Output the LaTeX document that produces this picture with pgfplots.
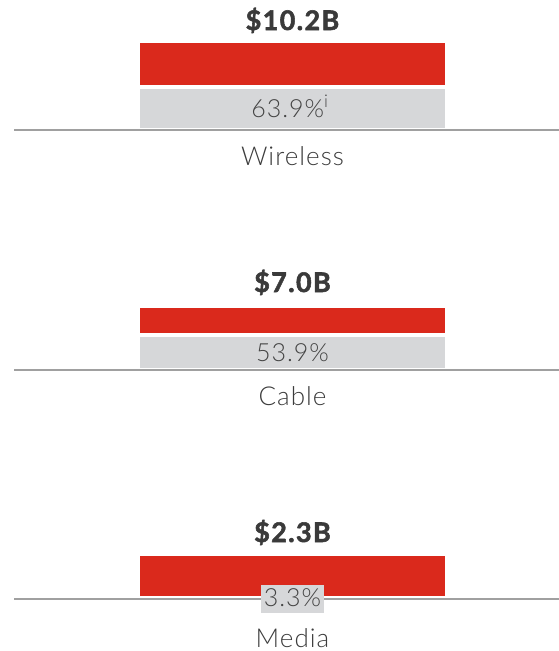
\documentclass[border=0pt]{standalone}
\usepackage{pgfplots}
\pgfplotsset{compat=1.18}
\usepackage{fontspec}
\setmainfont{Lato}
\IfFontExistsTF{Lato Light}{\newfontfamily\lightfam{Lato Light}[LetterSpace=4]}{\newfontfamily\lightfam{Lato}[LetterSpace=4]}
\newfontfamily\ttlfam{Lato}[LetterSpace=5, BoldFeatures={FakeBold=2}]
\definecolor{barred}{HTML}{DA291C}
\definecolor{bargray}{HTML}{D6D7D9}
\definecolor{basegray}{HTML}{A0A0A0}
\definecolor{txt}{HTML}{3C3C3C}
\definecolor{pct}{HTML}{444444}
\definecolor{ttl}{HTML}{3A3A3A}
\pgfplotsset{panel/.style={width=545pt, height=100pt, scale only axis,
  xmin=0, xmax=545, ymin=0, ymax=100, axis lines=none, clip=false,
  ybar stacked, bar width=305pt, anchor=south west}}
\newcommand{\ttlfont}{\fontsize{27}{28}\selectfont\ttlfam\bfseries\color{ttl}}
\newcommand{\catfont}{\fontsize{26}{30}\selectfont\lightfam\color{txt}}
\newcommand{\pctfont}{\fontsize{25}{28}\selectfont\lightfam\color{pct}}
\begin{document}
\begin{tikzpicture}
\useasboundingbox (0,0) rectangle (559pt,-651pt);
% Wireless
\begin{axis}[panel, at={(14pt,-128pt)}]
\addplot[fill=bargray, draw=none] coordinates {(278.5,39)};
\addplot[fill=none, draw=none] coordinates {(278.5,4)};
\addplot[fill=barred, draw=none] coordinates {(278.5,42)};
\coordinate (wl0) at (axis cs:0,-2.3);
\coordinate (wl1) at (axis cs:545,-2.3);
\coordinate (wt) at (axis cs:278.5,98);
\coordinate (wp) at (axis cs:276,11);
\coordinate (wc) at (axis cs:278.5,-37.7);
\end{axis}
% Cable
\begin{axis}[panel, at={(14pt,-368pt)}]
\addplot[fill=bargray, draw=none] coordinates {(278.5,31)};
\addplot[fill=none, draw=none] coordinates {(278.5,4.5)};
\addplot[fill=barred, draw=none] coordinates {(278.5,25)};
\coordinate (cl0) at (axis cs:0,-2.2);
\coordinate (cl1) at (axis cs:545,-2.2);
\coordinate (ct) at (axis cs:278.5,76);
\coordinate (cp) at (axis cs:278.5,7);
\coordinate (cc) at (axis cs:278.5,-37.7);
\end{axis}
% Media
\begin{axis}[panel, at={(14pt,-596pt)}]
\addplot[fill=bargray, draw=none] coordinates {(278.5,0)};
\addplot[fill=none, draw=none] coordinates {(278.5,0)};
\addplot[fill=barred, draw=none] coordinates {(278.5,40)};
\coordinate (ml0) at (axis cs:0,-3.3);
\coordinate (ml1) at (axis cs:545,-3.3);
\coordinate (mt) at (axis cs:278.5,54);
\coordinate (mp) at (axis cs:278.5,-10.7);
\coordinate (mc) at (axis cs:278.5,-51);
\end{axis}
\draw[basegray, line width=2pt] (wl0) -- (wl1);
\draw[basegray, line width=2pt] (cl0) -- (cl1);
\draw[basegray, line width=2pt] (ml0) -- (ml1);
\node[anchor=base, inner sep=0pt] at (wt) {\ttlfont \$10.2B};
\node[anchor=base, inner sep=0pt] at (wp) {\pctfont 63.9\%\textsuperscript{i}};
\node[anchor=base, inner sep=0pt] at (wc) {\catfont Wireless};
\node[anchor=base, inner sep=0pt] at (ct) {\ttlfont \$7.0B};
\node[anchor=base, inner sep=0pt] at (cp) {\pctfont 53.9\%};
\node[anchor=base, inner sep=0pt] at (cc) {\catfont Cable};
\node[anchor=base, inner sep=0pt] at (mt) {\ttlfont \$2.3B};
\node[anchor=base, fill=bargray, inner xsep=3pt, inner ysep=0pt, text height=22pt, text depth=6pt] at (mp) {\pctfont 3.3\%};
\node[anchor=base, inner sep=0pt] at (mc) {\catfont Media};
\end{tikzpicture}
\end{document}
